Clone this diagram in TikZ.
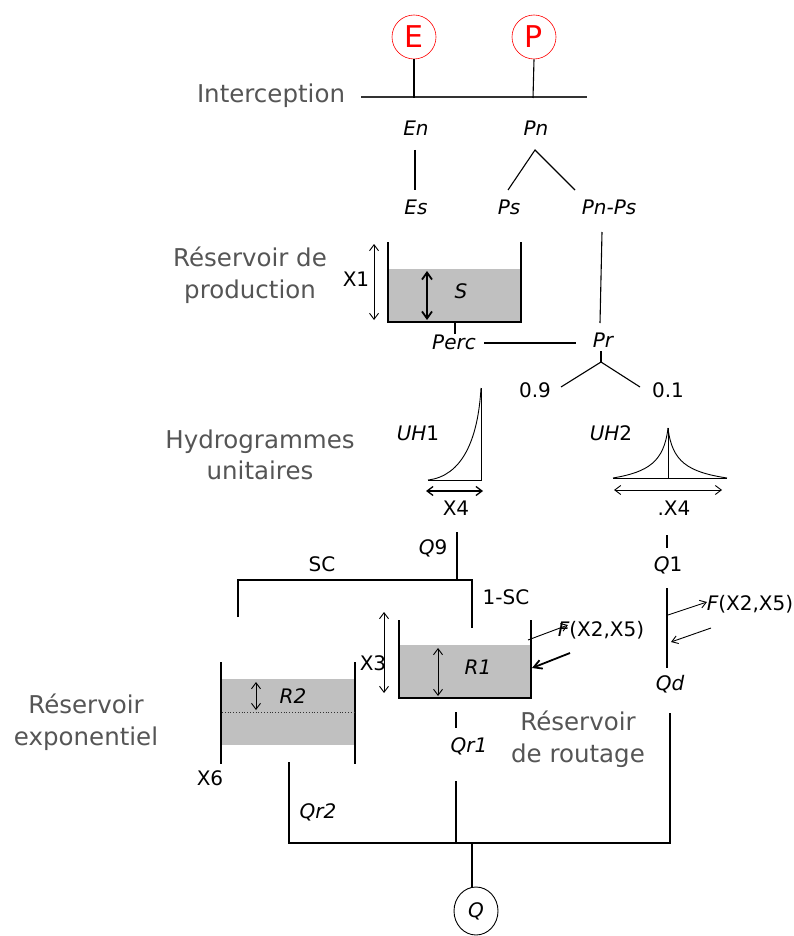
\documentclass[tikz,border=0pt]{standalone}
\usepackage{fontspec}
\setmainfont{DejaVu Sans}
\usetikzlibrary{arrows.meta,shapes.geometric}
\definecolor{gtext}{HTML}{555555}
\definecolor{wfill}{HTML}{C0C0C0}
\definecolor{redc}{HTML}{FF0000}
\definecolor{lgray}{HTML}{333333}
\begin{document}
\begin{tikzpicture}[x=1pt,y=-1pt,line width=1.1pt,
  lbl/.style={inner sep=0pt,font=\fontsize{20}{24}\selectfont},
  ilbl/.style={inner sep=0pt,font=\fontsize{20}{24}\selectfont\itshape},
  glbl/.style={inner sep=0pt,text=gtext,align=center,font=\fontsize{24.5}{31.5}\selectfont},
  rcirc/.style={circle,draw=redc,line width=0.6pt,minimum size=44pt,inner sep=0pt,text=redc,font=\fontsize{30}{34}\selectfont},
  dbl/.style={{Straight Barb[length=6pt,width=9pt]}-{Straight Barb[length=6pt,width=9pt]},line width=0.9pt},
  dblk/.style={{Straight Barb[length=7pt,width=10pt]}-{Straight Barb[length=7pt,width=10pt]},line width=1.8pt},
  sarr/.style={-{Straight Barb[length=6pt,width=8pt]},line width=0.9pt},
  karr/.style={-{Straight Barb[length=8pt,width=9pt]},line width=1.8pt},
  wall/.style={line width=1.1pt},
  ]
\useasboundingbox (0,0) rectangle (793,936);

% ---------- top ----------
\node[rcirc] (E) at (414,37) {E};
\node[rcirc] (P) at (534,37) {P};
\node[glbl] (interc) at (271,96) {Interception};
\coordinate (iL) at (361,97);
\coordinate (iR) at (587,97);
\draw[lgray] (iL) -- (iR);
\coordinate (eB) at (414,98);
\coordinate (pB) at (533,98);
\draw (E.south) -- (eB);
\draw (P.south) -- (pB);

\node[ilbl] (En) at (416,128) {En};
\node[ilbl] (Pn) at (536,128) {Pn};
\node[ilbl] (Es) at (416,207) {Es};
\node[ilbl] (Ps) at (509,207) {Ps};
\node[ilbl] (PnPs) at (609,207) {Pn-Ps};
\coordinate (enA) at (415,150);
\coordinate (enB) at (415,190);
\draw (enA) -- (enB);
\coordinate (pnA) at (535,150);
\coordinate (pnL) at (508,190);
\coordinate (pnR) at (575,190);
\draw (pnL) -- (pnA) -- (pnR);

% ---------- production reservoir ----------
\node[glbl] (prodlbl) at (250,275) {Réservoir de\\production};
\fill[wfill] (388,269) rectangle (521,322);
\coordinate (s1) at (388,242);
\coordinate (s2) at (388,322);
\coordinate (s3) at (521,322);
\coordinate (s4) at (521,242);
\draw[wall] (s1) -- (s2) -- (s3) -- (s4);
\coordinate (x1a) at (374,244);
\coordinate (x1b) at (374,320);
\draw[dbl] (x1a) -- (x1b);
\node[lbl] (X1) at (356,279) {X1};
\coordinate (sa) at (427,271);
\coordinate (sb) at (427,320);
\draw[dblk] (sa) -- (sb);
\node[ilbl] (S) at (461,291) {S};

\coordinate (ppA) at (602,232);
\coordinate (ppB) at (600,323);
\draw (ppA) -- (ppB);
\node[ilbl] (Pr) at (603,340) {Pr};
\coordinate (pcA) at (455,322);
\coordinate (pcB) at (455,334);
\draw (pcA) -- (pcB);
\node[ilbl] (Perc) at (454,342) {Perc};
\coordinate (plA) at (484,343);
\coordinate (plB) at (576,343);
\draw (plA) -- (plB);

\coordinate (prA) at (601,351);
\coordinate (prB) at (601,362);
\coordinate (prL) at (561,387);
\coordinate (prR) at (640,387);
\draw (prA) -- (prB);
\draw (prL) -- (prB) -- (prR);
\node[lbl] (n09) at (535,390) {0.9};
\node[lbl] (n01) at (668,390) {0.1};

% ---------- unit hydrographs ----------
\node[glbl] (hydlbl) at (260,455) {Hydrogrammes\\unitaires};
\node[lbl] (UH1) at (418,433) {\itshape UH\upshape 1};
\node[lbl] (UH2) at (611,433) {\itshape UH\upshape 2};
\coordinate (u1a) at (428,480);
\coordinate (u1b) at (481,480);
\coordinate (u1t) at (481,388);
\draw[line width=0.9pt] (u1a) -- (u1b) -- (u1t);
\draw[line width=0.9pt] (u1a) .. controls (462,476) and (478,440) .. (u1t);
\coordinate (x4a) at (426,491);
\coordinate (x4b) at (483,491);
\draw[dbl,line width=1.3pt] (x4a) -- (x4b);
\node[lbl] (X4) at (456,508) {X4};

\coordinate (u2l) at (613,478);
\coordinate (u2r) at (727,478);
\coordinate (u2t) at (668,428);
\coordinate (u2m) at (668,478);
\draw[line width=0.9pt] (u2l) -- (u2r);
\draw[line width=0.9pt] (u2t) -- (u2m);
\draw[line width=0.9pt] (u2l) .. controls (648,472) and (664,462) .. (u2t);
\draw[line width=0.9pt] (u2r) .. controls (688,472) and (672,462) .. (u2t);
\coordinate (x4c) at (614,490);
\coordinate (x4d) at (722,490);
\draw[dbl] (x4c) -- (x4d);
\node[lbl] (X4b) at (674,508) {.X4};

% ---------- routing ----------
\coordinate (q9a) at (457,532);
\coordinate (q9b) at (457,580);
\draw (q9a) -- (q9b);
\node[lbl] (Q9) at (433,548) {\itshape Q\upshape 9};
\coordinate (scL) at (238,617);
\coordinate (scLt) at (238,580);
\coordinate (scRt) at (472,580);
\coordinate (scR) at (472,628);
\draw (scL) -- (scLt) -- (scRt) -- (scR);
\node[lbl] (SC) at (322,564) {SC};
\node[lbl] (oneSC) at (506,597) {1-SC};

% R1
\fill[wfill] (399,645) rectangle (531,698);
\coordinate (r1a) at (399,620);
\coordinate (r1b) at (399,698);
\coordinate (r1c) at (531,698);
\coordinate (r1d) at (531,620);
\draw[wall] (r1a) -- (r1b) -- (r1c) -- (r1d);
\coordinate (x3a) at (384,612);
\coordinate (x3b) at (384,693);
\draw[dbl] (x3a) -- (x3b);
\node[lbl] (X3) at (373,663) {X3};
\coordinate (r1ia) at (438,648);
\coordinate (r1ib) at (438,696);
\draw[dbl] (r1ia) -- (r1ib);
\node[ilbl] (R1) at (478,667) {R1};
\node[lbl] (F1) at (601,630) {\itshape F\upshape(X2,X5)};
\coordinate (f1a) at (528,640);
\coordinate (f1b) at (568,625);
\draw[sarr] (f1a) -- (f1b);
\coordinate (f2a) at (570,653);
\coordinate (f2b) at (532,668);
\draw[karr] (f2a) -- (f2b);

% Q1 / Qd branch
\coordinate (q1a) at (667,535);
\coordinate (q1b) at (667,548);
\draw (q1a) -- (q1b);
\node[lbl] (Q1) at (668,565) {\itshape Q\upshape 1};
\coordinate (qdA) at (667,588);
\coordinate (qdB) at (667,668);
\draw (qdA) -- (qdB);
\coordinate (f3a) at (668,615);
\coordinate (f3b) at (707,602);
\draw[sarr] (f3a) -- (f3b);
\node[lbl] (F2) at (750,604) {\itshape F\upshape(X2,X5)};
\coordinate (f4a) at (711,628);
\coordinate (f4b) at (671,642);
\draw[sarr] (f4a) -- (f4b);
\node[ilbl] (Qd) at (670,684) {Qd};
\node[glbl] (routlbl) at (578,739) {Réservoir\\de routage};

% R2
\node[glbl] (explbl) at (86,722) {Réservoir\\exponentiel};
\fill[wfill] (221,679) rectangle (355,745);
\coordinate (r2a) at (221,662);
\coordinate (r2b) at (221,764);
\coordinate (r2c) at (355,662);
\coordinate (r2d) at (355,764);
\draw[wall] (r2a) -- (r2b);
\draw[wall] (r2c) -- (r2d);
\coordinate (dtA) at (222,712);
\coordinate (dtB) at (354,712);
\draw[dotted,line width=0.8pt,lgray] (dtA) -- (dtB);
\coordinate (r2ia) at (256,682);
\coordinate (r2ib) at (256,710);
\draw[dbl] (r2ia) -- (r2ib);
\node[ilbl] (R2) at (293,696) {R2};
\node[lbl] (X6) at (210,778) {X6};

% outflows
\coordinate (qr1a) at (456,712);
\coordinate (qr1b) at (456,728);
\draw (qr1a) -- (qr1b);
\node[ilbl] (Qr1) at (469,746) {Qr1};
\coordinate (qr1c) at (456,781);
\coordinate (qr1d) at (456,843);
\draw (qr1c) -- (qr1d);
\coordinate (qr2a) at (289,762);
\coordinate (bL) at (289,843);
\coordinate (bR) at (670,843);
\coordinate (qdC) at (670,713);
\draw (qr2a) -- (bL) -- (bR) -- (qdC);
\node[ilbl] (Qr2) at (318,812) {Qr2};
\coordinate (bM) at (472,843);
\node[ellipse,draw,line width=0.9pt,minimum width=44pt,minimum height=48pt,inner sep=0pt,font=\fontsize{20}{24}\selectfont\itshape] (Q) at (476,911) {Q};
\draw (bM) -- (bM |- Q.north);
\end{tikzpicture}
\end{document}
